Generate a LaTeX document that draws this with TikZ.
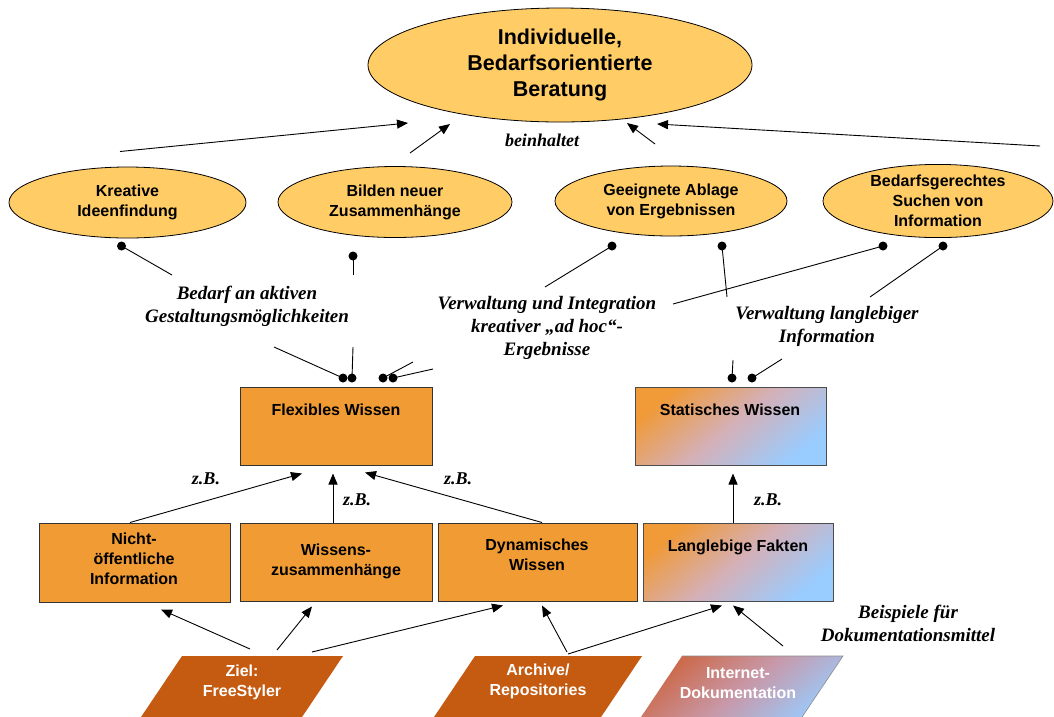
\documentclass[tikz,border=0pt]{standalone}
\usepackage{fontspec}
\setmainfont{Liberation Sans}
\newfontfamily\notefont{Liberation Serif}
\usetikzlibrary{calc,arrows.meta,shapes.geometric}

\definecolor{ellfill}{HTML}{FFCC66}
\definecolor{boxfill}{HTML}{F09B33}
\definecolor{paraorange}{HTML}{C55A11}
\definecolor{gradorange}{HTML}{F09A38}
\definecolor{gradmid}{HTML}{D4B0B8}
\definecolor{gradblue}{HTML}{99CCFF}
\definecolor{netred}{HTML}{CC6644}
\definecolor{netmid}{HTML}{C898A8}

\tikzset{
  ell/.style={ellipse, draw=black, line width=0.8pt, fill=ellfill, inner sep=0pt,
    align=center, font=\fontsize{16}{20}\selectfont\bfseries},
  box/.style={rectangle, draw=black!80, line width=1pt, fill=boxfill, inner sep=0pt},
  gradbox/.style={rectangle, draw=black!70, line width=1pt, top color=gradorange,
    bottom color=gradblue, middle color=gradmid, shading angle=40, inner sep=0pt},
  boxtext/.style={font=\fontsize{16}{20}\selectfont\bfseries, align=center, inner sep=0pt},
  paratext/.style={font=\fontsize{16}{20}\selectfont\bfseries, align=center, text=white, inner sep=0pt},
  note/.style={font=\fontsize{19}{23}\selectfont\notefont\bfseries\itshape, align=center, inner sep=0pt},
  zb/.style={font=\fontsize{18}{22}\selectfont\notefont\bfseries\itshape, inner sep=0pt},
  arr/.style={line width=0.9pt, -{Triangle[length=11pt,width=9pt]}},
  dotline/.style={line width=0.9pt},
  dot/.style={circle, fill=black, inner sep=0pt, minimum size=9pt},
}

\begin{document}
\begin{tikzpicture}[x=1pt,y=-1pt]
\useasboundingbox (0,0) rectangle (1054,716);
\fill[white] (0,0) rectangle (1054,716);
\clip (0,0) rectangle (1054,716);

% goal and sub-goals
\node[ell, minimum width=384pt, minimum height=114pt,
      font=\fontsize{21.5}{26}\selectfont\bfseries] (top) at (560,65)
  {Individuelle,\\Bedarfsorientierte\\Beratung};
\node[ell, minimum width=237pt, minimum height=71pt] (e1) at (127.5,202.5) {Kreative\\Ideenfindung};
\node[ell, minimum width=234pt, minimum height=71pt] (e2) at (395,202) {Bilden neuer\\Zusammenhänge};
\node[ell, minimum width=232pt, minimum height=70pt] (e3) at (671,201) {Geeignete Ablage\\von Ergebnissen};
\node[ell, minimum width=230pt, minimum height=72pt] (e4) at (938,201) {Bedarfsgerechtes\\Suchen von\\Information};

\node[zb] (beinh) at (542,140) {beinhaltet};

% "beinhaltet" arrows
\draw[arr] ($(e1.center)+(-7.5,-51)$) -- ($(top.center)+(-152,58)$);
\draw[arr] ($(e2.center)+(15,-49)$) -- ($(top.center)+(-110,59)$);
\draw[arr] ($(e3.center)+(-16,-57)$) -- ($(top.center)+(67,58)$);
\draw[arr] ($(e4.center)+(102,-55)$) -- ($(top.center)+(97,59)$);

% requirement labels
\node[note] (bedarf) at (247,306) {Bedarf an aktiven\\Gestaltungsmöglichkeiten};
\node[note] (verw) at (547,328) {Verwaltung und Integration\\kreativer „ad hoc“-\\Ergebnisse};
\node[note] (verwl) at (827,326) {Verwaltung langlebiger\\Information};

% knowledge boxes
\node[box, minimum width=192pt, minimum height=78pt] (flex) at (336,426) {};
\node[boxtext] (flexT) at (336,410) {Flexibles Wissen};
\node[gradbox, minimum width=191pt, minimum height=78pt] (stat) at (730.5,426) {};
\node[boxtext] (statT) at (730,410) {Statisches Wissen};

\node[box, minimum width=191pt, minimum height=79pt] (nicht) at (134.5,562.5) {};
\node[boxtext] (nichtT) at (134,559) {Nicht-\\öffentliche\\Information};
\node[box, minimum width=192pt, minimum height=78pt] (wiss) at (336,562) {};
\node[boxtext] (wissT) at (336,561) {Wissens-\\zusammenhänge};
\node[box, minimum width=199pt, minimum height=78pt] (dyn) at (537.5,562) {};
\node[boxtext] (dynT) at (537,555) {Dynamisches\\Wissen};
\node[gradbox, minimum width=190pt, minimum height=78pt] (lang) at (738,562) {};
\node[boxtext] (langT) at (738,547) {Langlebige Fakten};

% links from sub-goals to requirements
\draw[dotline] (e1.center) ++(-6,43.5) node[dot] {} -- ($(bedarf.center)+(-75,-31)$);
\draw[dotline] (e2.center) ++(-42,54) node[dot] {} -- ($(bedarf.center)+(106,-31)$);
\draw[dotline] (e3.center) ++(-59,45) node[dot] {} -- ($(verw.center)+(-2,-41)$);
\draw[dotline] (e3.center) ++(51,45) node[dot] {} -- ($(verwl.center)+(-100,-29)$);
\draw[dotline] (e4.center) ++(-55,45) node[dot] {} -- ($(verw.center)+(126,-24)$);
\draw[dotline] (e4.center) ++(5,45) node[dot] {} -- ($(verwl.center)+(43,-29)$);

% links from requirements to knowledge types
\draw[dotline] ($(bedarf.center)+(27,41)$) -- ($(flex.center)+(7,-48)$) node[dot] {};
\draw[dotline] ($(bedarf.center)+(106,41)$) -- ($(flex.center)+(16,-48)$) node[dot] {};
\draw[dotline] ($(verw.center)+(-134,34)$) -- ($(flex.center)+(47,-48)$) node[dot] {};
\draw[dotline] ($(verw.center)+(-114,41)$) -- ($(flex.center)+(57,-48)$) node[dot] {};
\draw[dotline] ($(verwl.center)+(-94,34)$) -- ($(stat.center)+(1.5,-48)$) node[dot] {};
\draw[dotline] ($(verwl.center)+(-45,33)$) -- ($(stat.center)+(21.5,-48)$) node[dot] {};

% examples of knowledge types
\draw[arr] ($(nicht.north)+(-4.5,0)$) -- ($(flex.south)+(-34,8)$);
\draw[arr] ($(wiss.north)+(-3,0)$) -- ($(flex.south)+(-3,8)$);
\draw[arr] ($(dyn.north)+(4.5,0)$) -- ($(flex.south)+(29,7)$);
\draw[arr] ($(lang.north)+(-5,0)$) -- ($(stat.south)+(2.5,8)$);
\node[zb] (zb1) at (206,479) {z.B.};
\node[zb] (zb2) at (357,500) {z.B.};
\node[zb] (zb3) at (458,479) {z.B.};
\node[zb] (zb4) at (768,500) {z.B.};

% documentation means
\fill[paraorange] (182,656) -- (343,656) -- (296,726) -- (135,726) -- cycle;
\fill[paraorange] (475,656) -- (642,656) -- (595,726) -- (428,726) -- cycle;
\shade[top color=netred, bottom color=gradblue, middle color=netmid, shading angle=40]
  (682,656) -- (843,656) -- (796,726) -- (635,726) -- cycle;
\draw[black!45, line width=0.6pt] (682,656) -- (843,656) -- (796,726);

\node[paratext] (ziel) at (242,682) {Ziel:\\FreeStyler};
\node[paratext] (arch) at (538,681) {Archive/\\Repositories};
\node[paratext] (net) at (738,683) {Internet-\\Dokumentation};

\node[note] (beisp) at (908,623) {Beispiele für\\Dokumentationsmittel};

\draw[arr] ($(ziel.center)+(8,-33)$) -- ($(nicht.south)+(26.5,7)$);
\draw[arr] ($(ziel.center)+(35,-32)$) -- ($(wiss.south)+(-24,5)$);
\draw[arr] ($(ziel.center)+(70,-30)$) -- ($(dyn.south)+(-34.5,4)$);
\draw[arr] ($(arch.center)+(29,-29)$) -- ($(dyn.south)+(4.5,4)$);
\draw[arr] ($(arch.center)+(30,-27)$) -- ($(lang.south)+(-16,4)$);
\draw[arr] ($(net.center)+(45,-37)$) -- ($(lang.south)+(-5,4)$);
\end{tikzpicture}
\end{document}
